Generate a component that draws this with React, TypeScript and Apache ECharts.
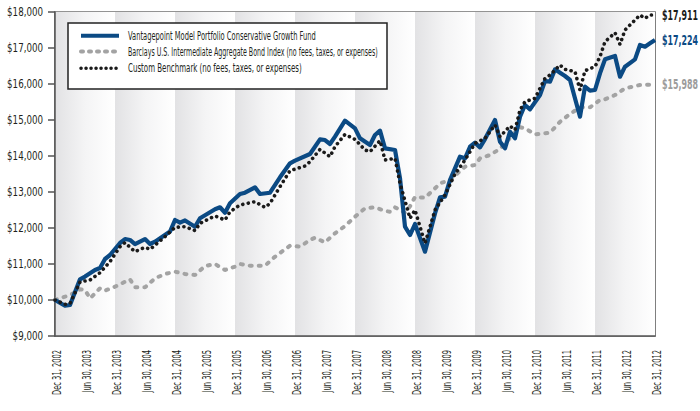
import React, { useEffect, useRef } from "react";
import * as echarts from "echarts";

const FAMILY = "DejaVu Sans Condensed";

const seriesNames = [
  "Vantagepoint Model Portfolio Conservative Growth Fund",
  "Barclays U.S. Intermediate Aggregate Bond Index (no fees, taxes, or expenses)",
  "Custom Benchmark (no fees, taxes, or expenses)",
];

const xTickLabels = [
  "Dec 31, 2002", "Jun 30, 2003", "Dec 31, 2003", "Jun 30, 2004", "Dec 31, 2004",
  "Jun 30, 2005", "Dec 31, 2005", "Jun 30, 2006", "Dec 31, 2006", "Jun 30, 2007",
  "Dec 31, 2007", "Jun 30, 2008", "Dec 31, 2008", "Jun 30, 2009", "Dec 31, 2009",
  "Jun 30, 2010", "Dec 31, 2010", "Jun 30, 2011", "Dec 31, 2011", "Jun 30, 2012",
  "Dec 31, 2012",
];
const xTickMonths = [0, 6, 12, 18, 24, 30, 36, 42, 48, 54, 60, 66, 72, 78, 84, 90, 96, 102, 108, 114, 120];
const yTicks = [9000, 10000, 11000, 12000, 13000, 14000, 15000, 16000, 17000, 18000];

// [months since Dec 31 2002, value]
const fund: [number, number][] = [
  [0, 10000], [2, 9840], [3, 9860], [5, 10575], [6, 10650], [8, 10833], [9, 10889],
  [10, 11139], [11, 11250], [13, 11583], [14, 11694], [15, 11667], [16, 11555],
  [18, 11694], [19, 11555], [20, 11620], [23, 11900], [24, 12222], [25, 12150],
  [26, 12210], [28, 12036], [29, 12270], [32, 12520], [33, 12575], [34, 12425],
  [35, 12686], [37, 12944], [38, 12980], [40, 13130], [41, 12944], [43, 12980],
  [45, 13408], [47, 13797], [48, 13870], [51, 14055], [53, 14463], [54, 14444],
  [55, 14333], [56, 14537], [58, 14981], [60, 14769], [61, 14491], [63, 14305],
  [64, 14583], [65, 14703], [66, 14213], [68, 14167], [69, 13380], [70, 12037],
  [71, 11805], [72, 12111], [74, 11342], [76, 12407], [77, 12852], [78, 12870],
  [79, 13333], [81, 13981], [82, 13935], [83, 14258], [84, 14370], [85, 14240],
  [86, 14470], [88, 15000], [89, 14398], [90, 14213], [91, 14675], [92, 14491],
  [93, 15092], [94, 15417], [95, 15296], [97, 15694], [98, 16083], [99, 16064],
  [100, 16407], [101, 16314], [102, 16222], [103, 16111], [105, 15092], [106, 15926],
  [107, 15815], [108, 15833], [109, 16297], [110, 16685], [112, 16778], [113, 16203],
  [114, 16481], [116, 16685], [117, 17083], [118, 17036], [119, 17130], [120, 17224],
];

const bondIndex: [number, number][] = [
  [0, 10000], [2, 10092], [4, 10203], [5, 10296], [6, 10278], [7, 10046], [9, 10324],
  [10, 10259], [12, 10370], [15, 10574], [16, 10352], [18, 10352], [20, 10602],
  [22, 10722], [24, 10787], [26, 10722], [28, 10694], [30, 10944], [32, 11000],
  [34, 10833], [36, 10926], [37, 11000], [39, 10953], [42, 10953], [44, 11203],
  [47, 11509], [49, 11481], [51, 11667], [52, 11731], [54, 11602], [56, 11852],
  [58, 12055], [60, 12314], [62, 12546], [64, 12574], [66, 12472], [67, 12453],
  [68, 12574], [70, 12420], [71, 12600], [72, 12860], [74, 12840], [76, 13100],
  [77, 13240], [79, 13333], [82, 13704], [84, 13750], [85, 13935], [87, 14028],
  [89, 14200], [91, 14500], [93, 14800], [94, 14769], [96, 14600], [99, 14648],
  [101, 14950], [103, 15167], [105, 15352], [107, 15352], [109, 15556], [110, 15574],
  [112, 15694], [114, 15880], [117, 15972], [120, 15988],
];

const benchmark: [number, number][] = [
  [0, 10000], [2, 9880], [3, 9900], [5, 10500], [7, 10555], [9, 10759], [11, 11064],
  [13, 11481], [14, 11592], [16, 11342], [18, 11463], [19, 11407], [22, 11759],
  [24, 12019], [26, 12037], [28, 11926], [29, 12130], [32, 12333], [34, 12222],
  [35, 12453], [37, 12639], [40, 12731], [42, 12574], [43, 12685], [45, 13148],
  [47, 13592], [50, 13722], [51, 13842], [53, 14185], [55, 13981], [56, 14259],
  [58, 14600], [60, 14463], [62, 14167], [63, 14120], [65, 14425], [66, 13889],
  [68, 13935], [69, 13241], [71, 12269], [72, 12500], [74, 11574], [76, 12500],
  [78, 12917], [80, 13500], [82, 13889], [84, 14352], [86, 14491], [88, 14861],
  [89, 14537], [91, 14833], [92, 14722], [93, 15278], [94, 15509], [96, 15602],
  [98, 16157], [99, 16250], [101, 16528], [102, 16407], [104, 16342], [105, 15833],
  [106, 16370], [108, 16481], [109, 16759], [110, 17175], [112, 17425], [113, 17100],
  [114, 17500], [116, 17778], [117, 17917], [118, 17824], [119, 17917], [120, 17911],
];

const yearStarts = [0, 12, 24, 36, 48, 60, 72, 84, 96, 108];

const BLUE = "#0b4a84";
const GRAY = "#a3a3a3";
const BLACK = "#1a1a1a";
const TEXT = "#231f20";

const fmt = (v: number) => "$" + v.toLocaleString("en-US");

export default function App() {
  const ref = useRef<HTMLDivElement>(null);
  useEffect(() => {
    document.body.style.margin = "0";
    if (!ref.current) return;
    const chart = echarts.init(ref.current, undefined, { renderer: "svg" });
    const bandColor = new echarts.graphic.LinearGradient(0, 0, 1, 0, [
      { offset: 0, color: "#e2e2e4" },
      { offset: 0.5, color: "#f4f4f5" },
      { offset: 1, color: "#ffffff" },
    ]);

    const canvas = document.createElement("canvas");
    const ctx = canvas.getContext("2d")!;
    const measure = (text: string, size: number, weight = "normal") => {
      ctx.font = `${weight} ${size}px "${FAMILY}"`;
      return ctx.measureText(text).width || text.length * size * 0.5;
    };

    chart.setOption({
      animation: false,
      textStyle: { fontFamily: FAMILY },
      grid: { left: 55, right: 45, top: 12, bottom: 75, show: true, borderColor: "#555", borderWidth: 1.5, z: 1 },
      xAxis: {
        type: "value", min: 0, max: 120, interval: 6, z: 1,
        axisLine: { show: true, onZero: false, lineStyle: { color: "#555", width: 1.5 } },
        axisTick: { show: false },
        splitLine: { show: false },
        axisLabel: { show: false },
      },
      yAxis: {
        type: "value", min: 9000, max: 18000, interval: 1000, z: 1,
        axisLine: { show: true, lineStyle: { color: "#555", width: 1.5 } },
        axisTick: { show: true, length: 7, lineStyle: { color: "#555", width: 1.5 } },
        splitLine: { lineStyle: { color: "#9a9a9a", width: 1.5 } },
        axisLabel: { show: false },
      },
      series: [
        {
          type: "line", name: "bands", data: [], z: 0, silent: true,
          markArea: {
            silent: true,
            data: yearStarts.map((s) => [
              { xAxis: s, yAxis: 9000, itemStyle: { color: bandColor } },
              { xAxis: s + 12, yAxis: 18000 },
            ]),
          },
        },
        {
          type: "line", name: seriesNames[0], data: fund, symbol: "none", z: 4,
          lineStyle: { color: BLUE, width: 4.2, join: "round" },
        },
        {
          type: "line", name: seriesNames[1], data: bondIndex, symbol: "none", z: 3,
          lineStyle: { color: GRAY, width: 4, type: [2, 7], cap: "round" },
        },
        {
          type: "line", name: seriesNames[2], data: benchmark, symbol: "none", z: 5,
          lineStyle: { color: BLACK, width: 3.6, type: [0.1, 5.5], cap: "round" },
        },
      ],
    });

    const graphics: any[] = [];

    // Legend box (condensed text)
    const LX = 68, LY = 23;
    graphics.push({ type: "rect", z: 10, shape: { x: LX, y: LY, width: 319, height: 66 }, style: { fill: "#fff", stroke: "#222", lineWidth: 1.5 } });
    const legendSize = 11.5;
    const legendTargets = [188, 250, 174];
    const rowY = [12.7, 28.6, 45.3];
    const iconStyles = [
      { stroke: BLUE, lineWidth: 4 },
      { stroke: GRAY, lineWidth: 4, lineDash: [2, 6], lineCap: "round" },
      { stroke: BLACK, lineWidth: 3.5, lineDash: [0.1, 4.9], lineCap: "round" },
    ];
    seriesNames.forEach((name, i) => {
      graphics.push({
        type: "line", z: 11,
        shape: { x1: LX + 13, y1: LY + rowY[i], x2: LX + 51, y2: LY + rowY[i] },
        style: iconStyles[i],
      });
      graphics.push({
        type: "text", z: 11, x: LX + 60, y: LY + rowY[i], scaleX: legendTargets[i] / measure(name, legendSize),
        style: { text: name, fill: TEXT, fontSize: legendSize, fontFamily: FAMILY, verticalAlign: "middle", align: "left" },
      });
    });

    // Y tick labels, placed through the axis scale
    const ySize = 12.5;
    const yScale = 36 / measure("$18,000", ySize);
    yTicks.forEach((v) => {
      const [px, py] = chart.convertToPixel({ gridIndex: 0 }, [0, v]) as number[];
      graphics.push({
        type: "text", z: 11, x: px - 12, y: py, scaleX: yScale,
        style: { text: fmt(v), fill: TEXT, fontSize: ySize, fontFamily: FAMILY, verticalAlign: "middle", align: "right" },
      });
    });

    // X tick labels, rotated, placed through the axis scale
    const xSize = 12;
    const xScale = 45 / measure("Dec 31, 2002", xSize);
    xTickMonths.forEach((m, i) => {
      const [px, py] = chart.convertToPixel({ gridIndex: 0 }, [m, 9000]) as number[];
      graphics.push({
        type: "text", z: 11, x: px + 1.5, y: py + 14, rotation: Math.PI / 2, scaleX: xScale,
        style: { text: xTickLabels[i], fill: TEXT, fontSize: xSize, fontFamily: FAMILY, verticalAlign: "middle", align: "right" },
      });
    });

    // End labels at the last data point of each series
    const ends = [
      { data: benchmark, color: BLACK, weight: "bold" },
      { data: fund, color: BLUE, weight: "bold" },
      { data: bondIndex, color: "#9c9c9c", weight: "bold" },
    ];
    const endSize = 13.5;
    ends.forEach((e) => {
      const last = e.data[e.data.length - 1];
      const [px, py] = chart.convertToPixel({ gridIndex: 0 }, last) as number[];
      const txt = fmt(last[1]);
      const s = 36 / measure(txt, endSize, e.weight);
      graphics.push({
        type: "text", z: 11, x: px + 7, y: py, scaleX: s,
        style: { text: txt, fill: e.color, fontSize: endSize, fontWeight: e.weight, fontFamily: FAMILY, verticalAlign: "middle", align: "left" },
      });
    });

    chart.setOption({ graphic: graphics });
    return () => chart.dispose();
  }, []);
  return <div ref={ref} style={{ width: 700, height: 411 }} />;
}
